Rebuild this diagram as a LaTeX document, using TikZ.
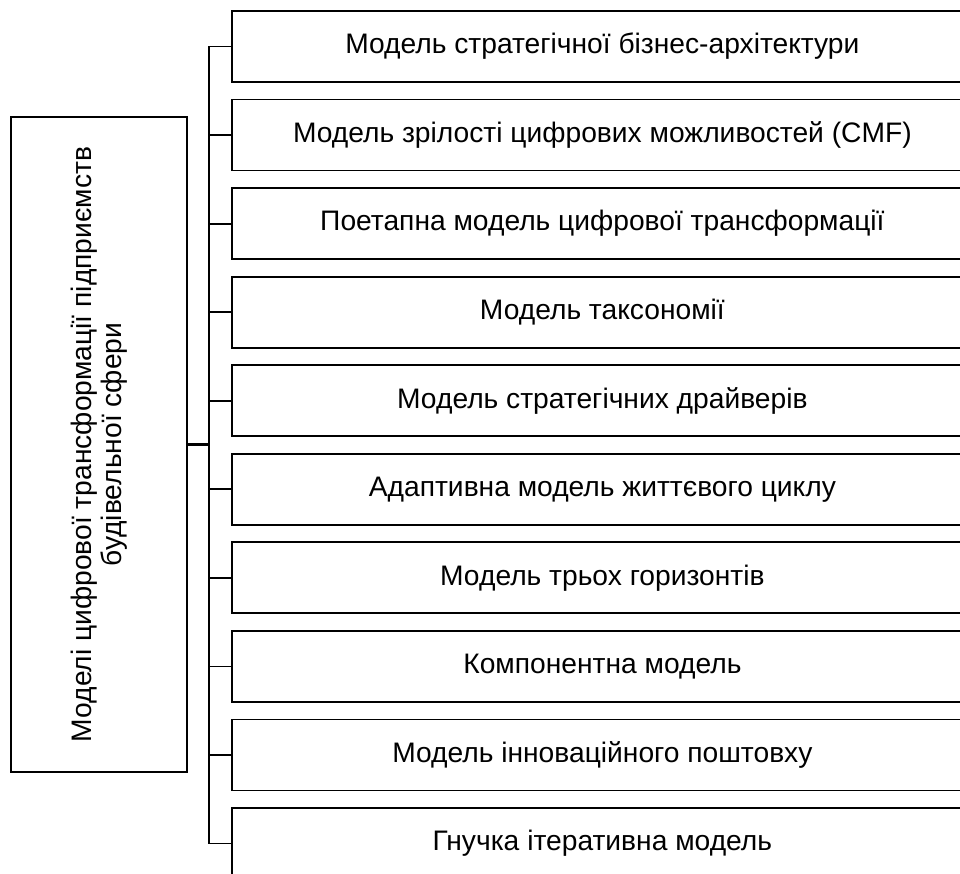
\documentclass[tikz,border=0pt]{standalone}
\usepackage{fontspec}
\setmainfont{Liberation Sans}
\begin{document}
\begin{tikzpicture}[x=1pt,y=1pt,
  mbox/.style={draw, line width=1.8pt, minimum width=741pt, minimum height=71pt, inner sep=0pt, anchor=west, font=\fontsize{28.2}{31}\selectfont},
  lbox/.style={draw, line width=1.8pt, rotate=90, minimum width=655pt, minimum height=176pt, inner sep=0pt, align=center, font=\fontsize{28.2}{30.5}\selectfont},
  conn/.style={line width=1.8pt}]
\useasboundingbox (0,0) rectangle (960,874);
\clip (0,0) rectangle (960,874);
\coordinate (t) at (209,0);
\node[lbox] (L) at (99,429.5) {Моделі цифрової трансформації підприємств\\будівельної сфери};
\node[mbox] (b1) at (231,827.5) {Модель стратегічної бізнес-архітектури};
\node[mbox] (b2) at (231,738.94) {Модель зрілості цифрових можливостей (CMF)};
\node[mbox] (b3) at (231,650.38) {Поетапна модель цифрової трансформації};
\node[mbox] (b4) at (231,561.82) {Модель таксономії};
\node[mbox] (b5) at (231,473.26) {Модель стратегічних драйверів};
\node[mbox] (b6) at (231,384.7) {Адаптивна модель життєвого циклу};
\node[mbox] (b7) at (231,296.14) {Модель трьох горизонтів};
\node[mbox] (b8) at (231,207.58) {Компонентна модель};
\node[mbox] (b9) at (231,119.02) {Модель інноваційного поштовху};
\node[mbox] (b10) at (231,30.46) {Гнучка ітеративна модель};
\draw[conn] (b1.west) -- (b1.west -| t) -- (b10.west -| t) -- (b10.west);
\foreach \i in {2,...,9} \draw[conn] (b\i.west -| t) -- (b\i.west);
\draw[line width=3pt] (L.south) -- (L.south -| t);
\end{tikzpicture}
\end{document}
